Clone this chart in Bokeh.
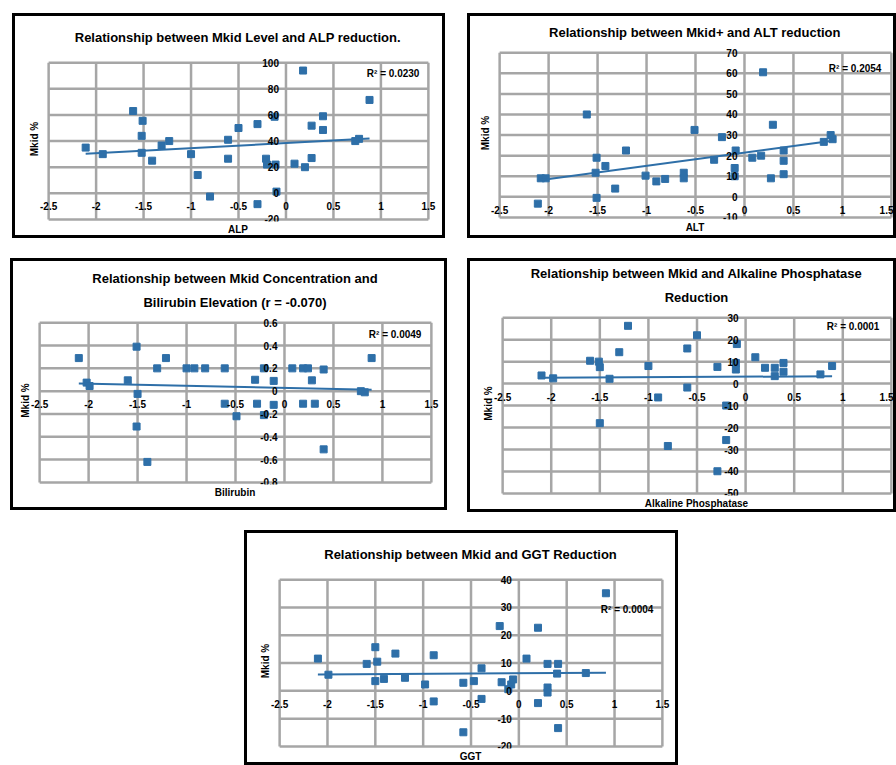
import numpy as np
from bokeh.plotting import figure
from bokeh.models import Range1d, FixedTicker, Title, Label, Spacer
from bokeh.layouts import row, column
from bokeh.embed import file_html
from bokeh.resources import INLINE

# ---------------- data ----------------
x_ticks = [-2.5, -2, -1.5, -1, -0.5, 0, 0.5, 1, 1.5]
x_tick_labels = ["-2.5", "-2", "-1.5", "-1", "-0.5", "0", "0.5", "1", "1.5"]

# Panel 1: Mkid vs ALP reduction
alp_x = [0.18, 0.88, -1.61, -1.51, -1.52, -2.11, -1.93, -1.52, -1.41, -1.31, -1.23, -1.00,
         -0.93, -0.80, -0.61, -0.61, -0.50, -0.30, -0.12, -0.21, -0.20, -0.11, -0.10, -0.30,
         0.09, 0.20, 0.27, 0.27, 0.39, 0.39, 0.77, 0.73]
alp_y = [94, 71.5, 63, 55.5, 44, 35, 30, 31, 25, 36.6, 40, 30,
         14, -2.5, 26.5, 41, 50, 53, 58.6, 26.5, 22, 22, 1.3, -8.3,
         22.7, 20, 27, 51.8, 59, 48.5, 41.7, 40]
alp_yticks = [-20, 0, 20, 40, 60, 80, 100]
alp_ylabels = ["-20", "0", "20", "40", "60", "80", "100"]

# Panel 2: Mkid+ vs ALT reduction
alt_x = [0.19, -1.61, 0.29, -0.51, -0.23, 0.88, 0.81, 0.90, -0.09, 0.40, 0.40, 0.08,
         0.17, -0.31, -1.51, -1.42, -1.52, -1.21, -1.01, -0.90, -0.81, -0.62, -0.62, -0.10,
         -0.10, 0.27, 0.40, -1.32, -1.51, -2.11, -2.08, -2.03]
alt_y = [60.5, 40, 35, 32.5, 29, 30, 26.7, 28, 22.5, 22.5, 17.5, 19,
         20, 18, 19, 15, 11.7, 22.5, 10.3, 7.5, 8.7, 11.7, 9, 14,
         10, 9, 11, 4, -0.5, -3.3, 9, 9]
alt_yticks = [-10, 0, 10, 20, 30, 40, 50, 60, 70]
alt_ylabels = ["-10", "0", "10", "20", "30", "40", "50", "60", "70"]

# Panel 3: Mkid concentration vs Bilirubin elevation
bil_x = [-1.51, -2.10, -1.21, 0.89, -1.30, -1.00, -0.92, -0.81, -0.61, -0.21, 0.08, 0.19,
         0.24, 0.40, -0.30, -0.11, 0.28, -1.60, -2.02, -1.99, -1.50, -0.61, -0.28, -0.11,
         0.19, 0.31, -0.49, -0.21, -1.51, 0.40, -1.40, 0.78, 0.82]
bil_y = [0.39, 0.29, 0.29, 0.29, 0.20, 0.20, 0.20, 0.20, 0.20, 0.20, 0.20, 0.20,
         0.20, 0.19, 0.10, 0.09, 0.095, 0.095, 0.075, 0.045, -0.024, -0.11, -0.11, -0.12,
         -0.11, -0.11, -0.22, -0.21, -0.31, -0.51, -0.62, 0.0, -0.01]
bil_yticks = [-0.8, -0.6, -0.4, -0.2, 0, 0.2, 0.4, 0.6]
bil_ylabels = ["-0.8", "-0.6", "-0.4", "-0.2", "0", "0.2", "0.4", "0.6"]

# Panel 4: Mkid vs Alkaline Phosphatase reduction
akp_x = [-1.21, -0.50, -0.09, -0.60, -1.30, 0.10, -1.60, -1.51, -1.50, -1.00, -0.29, -0.10,
         -0.10, 0.20, 0.30, 0.39, 0.39, 0.89, 0.77, -2.10, -1.98, -1.40, -0.60, -0.90,
         -0.20, -1.50, -0.80, -0.20, -0.29, 0.30]
akp_y = [26.3, 22, 18, 16, 14.3, 12, 10.4, 10, 7.5, 8, 7.6, 9.4,
         6.4, 7.2, 7.2, 9.4, 5.4, 8, 4.2, 3.7, 2.4, 2.2, -1.8, -6.3,
         -10, -18, -28.4, -25.7, -39.9, 3.4]
akp_yticks = [-50, -40, -30, -20, -10, 0, 10, 20, 30]
akp_ylabels = ["-50", "-40", "-30", "-20", "-10", "0", "10", "20", "30"]

# Panel 5: Mkid vs GGT reduction
ggt_x = [0.91, -0.20, 0.20, -1.50, -1.29, -0.89, -2.10, -1.59, -1.48, 0.08, 0.30, 0.41,
         -0.39, 0.40, -1.99, 0.70, -1.50, -1.41, -1.19, -0.98, -0.58, -0.47, -0.18, -0.08,
         -0.06, 0.30, 0.30, -0.39, -0.89, 0.20, -0.11, -0.58, 0.41]
ggt_y = [35.1, 23.3, 22.7, 15.7, 13.4, 12.8, 11.6, 9.7, 10.5, 11.6, 9.7, 9.7,
         8.1, 6.2, 5.8, 6.4, 3.5, 4.3, 4.7, 2.3, 2.9, 3.5, 3.1, 2.3,
         4.1, 1.2, -0.6, -2.9, -3.8, -4.4, 0.6, -14.9, -13.4]
ggt_yticks = [-20, -10, 0, 10, 20, 30, 40]
ggt_ylabels = ["-20", "-10", "0", "10", "20", "30", "40"]

y_title = "Mkid %"

# ---------------- styling ----------------
BLUE = "#2e6fa8"
GRID = "#a6a6a6"
FONT = "Liberation Sans"
BW = 3  # panel border width
PADL, PADR, PADT, PADB = 9, 8, 6, 2


def corr(xs, ys):
    return float(np.corrcoef(xs, ys)[0, 1])


def make_panel(xs, ys, yticks, ylabels, title_lines, standoffs, xlabel,
               outer, grid, r2_dx, r2_dy):
    ox, oy, w, h = outer
    gx0, gy0, gx1, gy1 = grid
    fl, fr = gx0 - PADL, gx1 + PADR
    ft, fb = gy0 - PADT, gy1 + PADB
    ml = fl - ox - BW
    mr = max(ox + w - BW - fr, 0)
    mt = ft - oy - BW
    mb = oy + h - BW - fb
    ux = (x_ticks[-1] - x_ticks[0]) / (gx1 - gx0)
    uy = (yticks[-1] - yticks[0]) / (gy1 - gy0)
    xr = Range1d(x_ticks[0] - PADL * ux, x_ticks[-1] + PADR * ux)
    yr = Range1d(yticks[0] - PADB * uy, yticks[-1] + PADT * uy)

    p = figure(width=w, height=h, output_backend="svg", toolbar_location=None,
               x_range=xr, y_range=yr,
               min_border_left=ml, min_border_right=mr,
               min_border_top=mt, min_border_bottom=mb,
               background_fill_color="white", border_fill_color="white")
    p.title = None
    p.frame_align = False
    p.styles = {"border": "%dpx solid #000000" % BW}
    p.outline_line_color = None
    p.xgrid.visible = False
    p.ygrid.visible = False

    # titles (closest to the frame first)
    for line, so in reversed(list(zip(title_lines, standoffs))):
        p.add_layout(Title(text=line, align="center", text_font=FONT,
                           text_font_size="13px", text_font_style="bold",
                           text_color="black", standoff=so), "above")

    # grid lines drawn from the tick arrays
    ny = len(yticks)
    nx = len(x_ticks)
    p.segment(x0=x_ticks, y0=[yticks[0]] * nx, x1=x_ticks, y1=[yticks[-1]] * nx,
              line_color=GRID, line_width=2.5)
    p.segment(x0=[x_ticks[0]] * ny, y0=yticks, x1=[x_ticks[-1]] * ny, y1=yticks,
              line_color=GRID, line_width=2.5)

    for ax in (p.xaxis[0], p.yaxis[0]):
        ax.fixed_location = 0
        ax.axis_line_color = None
        ax.major_tick_line_color = None
        ax.minor_tick_line_color = None
        ax.major_tick_out = 0
        ax.major_tick_in = 0
        ax.minor_tick_out = 0
        ax.major_label_text_font = FONT
        ax.major_label_text_font_size = "10px"
        ax.major_label_text_font_style = "bold"
        ax.major_label_text_color = "black"
    p.xaxis.ticker = FixedTicker(ticks=x_ticks)
    p.xaxis.major_label_overrides = dict(zip(x_ticks, x_tick_labels))
    p.xaxis.major_label_standoff = 9
    p.yaxis.ticker = FixedTicker(ticks=yticks)
    p.yaxis.major_label_overrides = dict(zip(yticks, ylabels))
    p.yaxis.major_label_standoff = 7

    p.add_layout(Title(text=y_title, align="center", text_font=FONT, text_font_size="10px",
                       text_font_style="bold", text_color="black", standoff=0), "left")
    p.add_layout(Title(text=xlabel, align="center", text_font=FONT,
                       text_font_size="10px", text_font_style="bold", text_color="black",
                       standoff=0), "below")

    p.scatter(xs, ys, marker="square", size=7, color=BLUE)
    m, b = np.polyfit(xs, ys, 1)
    xl = [min(xs), max(xs)]
    p.line(xl, [m * xl[0] + b, m * xl[1] + b], line_color=BLUE, line_width=2)

    r2 = corr(xs, ys) ** 2
    p.add_layout(Label(x=x_ticks[-1], y=yticks[-1], x_offset=-r2_dx, y_offset=-r2_dy,
                       text="R² = %.4f" % r2, text_align="right", text_baseline="top",
                       text_font=FONT, text_font_size="10px", text_font_style="bold",
                       text_color="black"))
    return p


p1 = make_panel(alp_x, alp_y, alp_yticks, alp_ylabels,
                ["Relationship between Mkid Level and ALP reduction."], [23],
                "ALP", (12, 13, 433, 225), (48, 62, 422, 213), 9, 5)
p2 = make_panel(alt_x, alt_y, alt_yticks, alt_ylabels,
                ["Relationship between Mkid+ and ALT reduction"], [13],
                "ALT", (467, 13, 429, 225), (499, 52, 885, 211), 10, 10)
r_bil = corr(bil_x, bil_y)
p3 = make_panel(bil_x, bil_y, bil_yticks, bil_ylabels,
                ["Relationship between Mkid Concentration and",
                 "Bilirubin Elevation (r = %.3f)" % r_bil], [0, 14],
                "Bilirubin", (10, 258, 437, 252), (39, 322, 425, 476), 10, 6)
p4 = make_panel(akp_x, akp_y, akp_yticks, akp_ylabels,
                ["Relationship between Mkid and Alkaline Phosphatase",
                 "Reduction"], [0, 14],
                "Alkaline Phosphatase", (467, 258, 429, 254), (502, 317, 885, 487), 12, 3)
p5 = make_panel(ggt_x, ggt_y, ggt_yticks, ggt_ylabels,
                ["Relationship between Mkid and GGT Reduction"], [23],
                "GGT", (244, 530, 434, 235), (279, 577, 656, 740), 9, 24)

layout = column(
    Spacer(height=13, width=10),
    row(Spacer(width=12, height=10), p1, Spacer(width=22, height=10), p2),
    Spacer(height=20, width=10),
    row(Spacer(width=10, height=10), p3, Spacer(width=20, height=10), p4),
    Spacer(height=18, width=10),
    row(Spacer(width=244, height=10), p5),
)

open("out.html", "w").write(file_html(layout, INLINE))
